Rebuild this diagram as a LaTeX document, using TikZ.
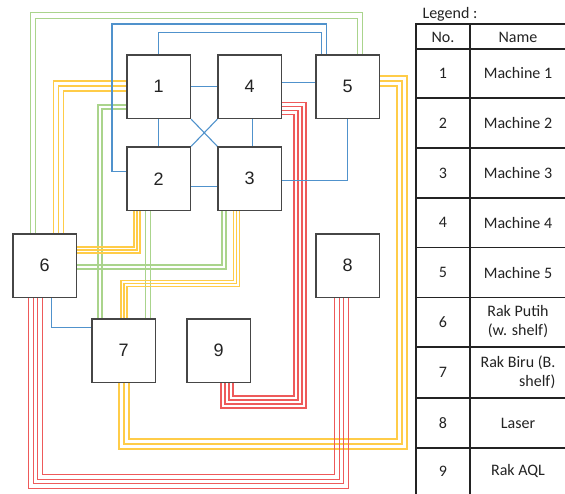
\documentclass[tikz,border=0pt]{standalone}
\usepackage{fontspec}
\setmainfont{Liberation Sans}
\newfontfamily\calib{Carlito}
\usetikzlibrary{calc,backgrounds}
\definecolor{cblue}{RGB}{80,146,204}
\definecolor{cgreen}{RGB}{170,212,140}
\definecolor{cyel}{RGB}{255,204,72}
\definecolor{cred}{RGB}{238,90,90}
\definecolor{boxgray}{RGB}{70,70,70}
\definecolor{txtgray}{RGB}{35,35,35}
\newcommand\mlines[3]{\foreach \dd in {#2}{\draw[#1] #3;}}
\begin{document}
\begin{tikzpicture}[x=1pt,y=-1pt,
  box/.style={draw=boxgray, line width=1.3pt, fill=white, minimum width=63.5pt,
    minimum height=63.5pt, inner sep=0pt, font=\fontsize{18}{20}\selectfont, text=txtgray},
  bl/.style={draw=cblue, line width=1.1pt},
  grn/.style={draw=cgreen, line width=1.05pt, line join=miter},
  yel/.style={draw=cyel, line width=1.05pt, line join=miter},
  rd/.style={draw=cred, line width=1.05pt, line join=miter},
  tab/.style={draw=txtgray, line width=1.1pt},
  legtxt/.style={font=\calib\fontsize{16}{19}\selectfont, text=txtgray, align=center}]
\useasboundingbox (0,0) rectangle (565,493);
% boxes
\node[box] (n1) at (158.75,86.75) {1};
\node[box] (n4) at (249.75,86.75) {4};
\node[box] (n5) at (347.75,86.75) {5};
\node[box] (n2) at (158.75,178.75) {2};
\node[box] (n3) at (249.75,178.75) {3};
\node[box] (n6) at (44.75,265.75) {6};
\node[box] (n8) at (347.75,265.75) {8};
\node[box] (n7) at (123.75,350.75) {7};
\node[box] (n9) at (218.75,350.75) {9};
\begin{pgfonlayer}{background}
\fill[white] (0,0) rectangle (565,493);
% green
\mlines{grn}{-2.75,2.75}{($(n6.north)+({-11.75-(\dd)},0)$) -- ({33-(\dd)},{15.5-(\dd)}) -- ({360+(\dd)},{15.5-(\dd)}) -- ($(n5.north)+({12.25+(\dd)},0)$)}
\mlines{grn}{-2,2}{($(n1.west)+(0,{20.25-(\dd)})$) -- ({100-(\dd)},{107-(\dd)}) -- ($(n7.north)+({-23.75-(\dd)},0)$)}
\mlines{grn}{-2.2,2.2}{($(n2.south)+({-10.75+(\dd)},0)$) -- ($(n7.north)+({24.25+(\dd)},0)$)}
\mlines{grn}{-2,2}{($(n3.south)+({-25.75+(\dd)},0)$) -- ({224+(\dd)},{267+(\dd)}) -- ($(n6.east)+(0,{1.25+(\dd)})$)}
% yellow
\mlines{yel}{-5,0,5}{($(n1.west)+(0,{-0.75+(\dd)})$) -- ({58.5+(\dd)},{86+(\dd)}) -- ($(n6.north)+({13.75+(\dd)},0)$)}
\mlines{yel}{-3,0,3}{($(n2.south)+({-21.75+(\dd)},0)$) -- ({137+(\dd)},{250+(\dd)}) -- ($(n6.east)+(0,{-15.75+(\dd)})$)}
\mlines{yel}{-3,0,3}{($(n3.south)+({-13.25+(\dd)},0)$) -- ({236.5+(\dd)},{283.5+(\dd)}) -- ({124+(\dd)},{283.5+(\dd)}) -- ($(n7.north)+({0.25+(\dd)},0)$)}
\mlines{yel}{-5,0,5}{($(n5.east)+(0,{-5.75-(\dd)})$) -- ({402+(\dd)},{81-(\dd)}) -- ({402+(\dd)},{444+(\dd)}) -- ({124-(\dd)},{444+(\dd)}) -- ($(n7.south)+({0.25-(\dd)},0)$)}
% red
\mlines{rd}{-6,-2,2,6}{($(n4.east)+(0,{21.75-(\dd)})$) -- ({300+(\dd)},{108.5-(\dd)}) -- ({300+(\dd)},{402+(\dd)}) -- ({227-(\dd)},{402+(\dd)}) -- ($(n9.south)+({8.25-(\dd)},0)$)}
\mlines{rd}{-6.6,-2.2,2.2,6.6}{($(n6.south)+({-9.25-(\dd)},0)$) -- ({35.5-(\dd)},{481.5+(\dd)}) -- ({341.5+(\dd)},{481.5+(\dd)}) -- ($(n8.south)+({-6.25+(\dd)},0)$)}
% blue
\draw[bl] (n1.east) -- (n4.west);
\draw[bl] ($(n4.east)+(0,-4)$) -- ($(n5.west)+(0,-4)$);
\draw[bl] (n1.south) -- (n2.north);
\draw[bl] ($(n4.south)+(3,0)$) -- ($(n3.north)+(3,0)$);
\draw[bl] ($(n2.east)+(0,8)$) -- ($(n3.west)+(0,8)$);
\draw[bl] (n1.south east) -- (n3.north west);
\draw[bl] (n4.south west) -- (n2.north east);
\draw[bl] (n5.south) |- ($(n3.east)+(0,2)$);
\draw[bl] (n1.north) -- ++(0,-22) -| ($(n5.north)+(-26,0)$);
\draw[bl] ($(n2.west)+(0,-7)$) -| (112,24) -| ($(n5.north)+(-21,0)$);
\draw[bl] ($(n6.south)+(7,0)$) |- ($(n7.west)+(0,-23)$);
\end{pgfonlayer}
% legend
\node[legtxt, anchor=west] (leg) at (419,14) {Legend :};
\draw[tab] (416,24) rectangle (567,495);
\draw[tab] (470,24) -- (470,495);
\foreach \yy in {49,98,148,198,247.5,297.5,347,398,448} {\draw[tab] (416,\yy) -- (567,\yy);}
\node[legtxt] (hno) at (443,37) {No.};
\node[legtxt] (hname) at (518,37) {Name};
\node[legtxt] (r1a) at (443,73.5) {1};  \node[legtxt] (r1b) at (518,73.5) {Machine 1};
\node[legtxt] (r2a) at (443,123) {2};   \node[legtxt] (r2b) at (518,123) {Machine 2};
\node[legtxt] (r3a) at (443,173) {3};   \node[legtxt] (r3b) at (518,173) {Machine 3};
\node[legtxt] (r4a) at (443,222.5) {4}; \node[legtxt] (r4b) at (518,222.5) {Machine 4};
\node[legtxt] (r5a) at (443,272.5) {5}; \node[legtxt] (r5b) at (518,272.5) {Machine 5};
\node[legtxt] (r6a) at (443,322) {6};   \node[legtxt] (r6b) at (518,322) {Rak Putih\\(w. shelf)};
\node[legtxt] (r7a) at (443,372.5) {7}; \node[legtxt] (r7b) at (518,372.5) {Rak Biru (B.\\\hfill shelf)};
\node[legtxt] (r8a) at (443,423) {8};   \node[legtxt] (r8b) at (518,423) {Laser};
\node[legtxt] (r9a) at (443,471) {9};   \node[legtxt] (r9b) at (518,471) {Rak AQL};
\end{tikzpicture}
\end{document}
